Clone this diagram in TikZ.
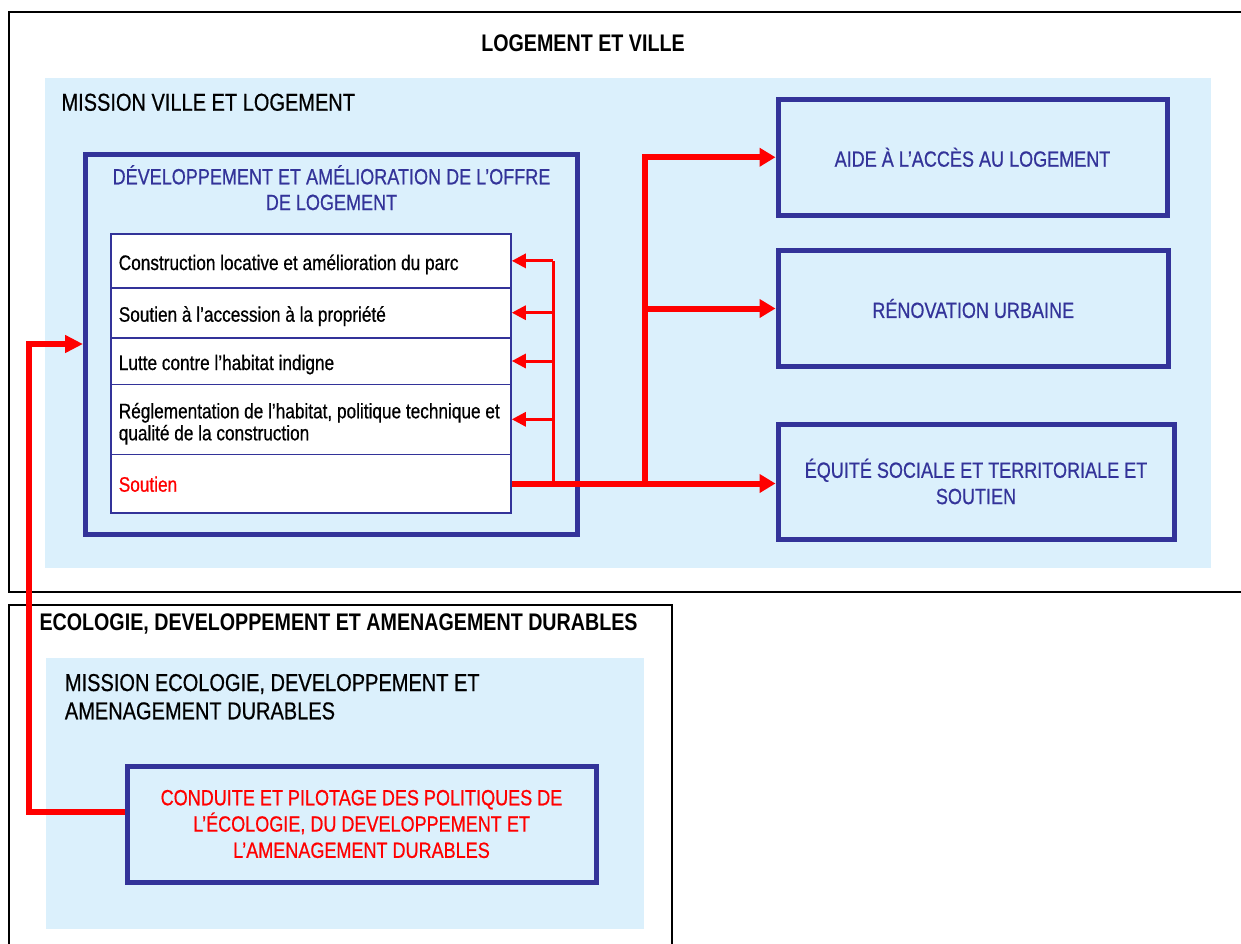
\documentclass[tikz,border=0pt]{standalone}
\usepackage{fontspec}
\setmainfont{Liberation Sans}[FakeStretch=0.82,UprightFeatures={FakeBold=0.6}]
\usetikzlibrary{arrows.meta}
\definecolor{navy}{RGB}{51,51,153}
\definecolor{paleblue}{RGB}{219,240,252}
\definecolor{linkred}{RGB}{255,0,0}
\begin{document}
\begin{tikzpicture}[x=1pt,y=-1pt,
  frame/.style={draw=black,line width=2pt,inner sep=0pt,outer sep=0pt},
  panel/.style={fill=paleblue,inner sep=0pt,outer sep=0pt},
  navybox/.style={draw=navy,line width=5pt,fill=paleblue,inner sep=0pt,align=center,text=navy,font=\fontsize{22}{26.3}\selectfont},
  cellbox/.style={draw=navy,line width=1.6pt,fill=white,inner sep=0pt,minimum width=400.3pt},
  headtext/.style={inner sep=0pt,font=\fontsize{24}{28}\selectfont\bfseries},
  missiontext/.style={inner sep=0pt,anchor=base west,font=\fontsize{24.4}{28.3}\selectfont},
  rowtext/.style={inner sep=0pt,anchor=base west,font=\fontsize{21}{21.7}\selectfont},
  bigred/.style={draw=linkred,line width=6pt},
  thinred/.style={draw=linkred,line width=3pt},
  bigtip/.style={-{Triangle[length=16pt,width=18pt]}},
  thintip/.style={-{Triangle[length=14pt,width=14pt]}}
]
\clip (0,0) rectangle (1241,943);
\fill[white] (0,0) rectangle (1241,943);

% upper frame
\node[frame,minimum width=1251.3pt,minimum height=579.4pt] (frameA) at (634.35,302) {};
\node[panel,minimum width=1166pt,minimum height=490pt] (panelA) at (628,323) {};
\node[draw=navy,line width=5pt,fill=paleblue,inner sep=0pt,minimum width=492pt,minimum height=380pt] (dev) at (331.5,344) {};

\node[cellbox,minimum height=53.7pt] (c1) at (310.85,260.85) {};
\node[cellbox,minimum height=50pt] (c2) at (310.85,312.7) {};
\node[cellbox,minimum height=46.6pt] (c3) at (310.85,361) {};
\node[cellbox,minimum height=70pt] (c4) at (310.85,419.3) {};
\node[cellbox,minimum height=58.4pt] (c5) at (310.85,483.5) {};

\node[navybox,minimum width=389pt,minimum height=115.5pt] (aide) at (972.5,157.25) {AIDE À L’ACCÈS AU LOGEMENT};
\node[navybox,minimum width=390.5pt,minimum height=116pt] (reno) at (973.25,308.5) {RÉNOVATION URBAINE};
\node[navybox,minimum width=396pt,minimum height=115pt] (eq) at (976,481.5) {ÉQUITÉ SOCIALE ET TERRITORIALE ET\\SOUTIEN};

% lower frame
\node[frame,minimum width=663pt,minimum height=355pt] (frameB) at (340.5,782.5) {};
\node[panel,minimum width=597.8pt,minimum height=271pt] (panelB) at (344.9,793.8) {};
\node[navybox,text=linkred,minimum width=469pt,minimum height=116pt] (cond) at (361.5,824) {CONDUITE ET PILOTAGE DES POLITIQUES DE\\L’ÉCOLOGIE, DU DEVELOPPEMENT ET\\L’AMENAGEMENT DURABLES};

% texts
\node[headtext,anchor=base] (tA) at (583,51.7) {LOGEMENT ET VILLE};
\node[missiontext] (mA) at (61.3,110.7) {MISSION VILLE ET LOGEMENT};
\node[inner sep=0pt,anchor=base,text=navy,font=\fontsize{22}{25.7}\selectfont] (devtitle) at (331.5,184.3)
  {\begin{tabular}[t]{@{}c@{}}DÉVELOPPEMENT ET AMÉLIORATION DE L’OFFRE\\DE LOGEMENT\end{tabular}};
\node[rowtext] (r1) at (118.6,270) {Construction locative et amélioration du parc};
\node[rowtext] (r2) at (118.6,321.7) {Soutien à l’accession à la propriété};
\node[rowtext] (r3) at (118.6,370) {Lutte contre l’habitat indigne};
\node[rowtext] (r4) at (118.6,418.3) {\begin{tabular}[t]{@{}l@{}}Réglementation de l’habitat, politique technique et\\qualité de la construction\end{tabular}};
\node[rowtext,text=linkred] (r5) at (118.6,491.7) {Soutien};

\node[headtext,anchor=base west] (tB) at (39.3,630) {ECOLOGIE, DEVELOPPEMENT ET AMENAGEMENT DURABLES};
\node[missiontext] (mB) at (64.7,691) {\begin{tabular}[t]{@{}l@{}}MISSION ECOLOGIE, DEVELOPPEMENT ET\\AMENAGEMENT DURABLES\end{tabular}};

% connectors
\coordinate (bus) at (553,0);
\coordinate (trunk) at (645,0);
\coordinate (lc) at (29,0);

\draw[thinred] (bus |- c5.east) -- (bus |- c1.east);
\draw[thinred,thintip] (bus |- c1.east) -- (c1.east);
\draw[thinred,thintip] (bus |- c2.east) -- (c2.east);
\draw[thinred,thintip] (bus |- c3.east) -- (c3.east);
\draw[thinred,thintip] (bus |- c4.east) -- (c4.east);

\draw[bigred,bigtip] (c5.east) -- (c5.east -| eq.west);
\draw[bigred,bigtip] (trunk |- c5.east) |- (aide.west);
\draw[bigred,bigtip] (trunk |- reno.west) -- (reno.west);

\draw[bigred,-{Triangle[length=18pt,width=17pt]}] ([yshift=12pt]cond.west) -| (lc |- dev.west) -- (dev.west);
\end{tikzpicture}
\end{document}
